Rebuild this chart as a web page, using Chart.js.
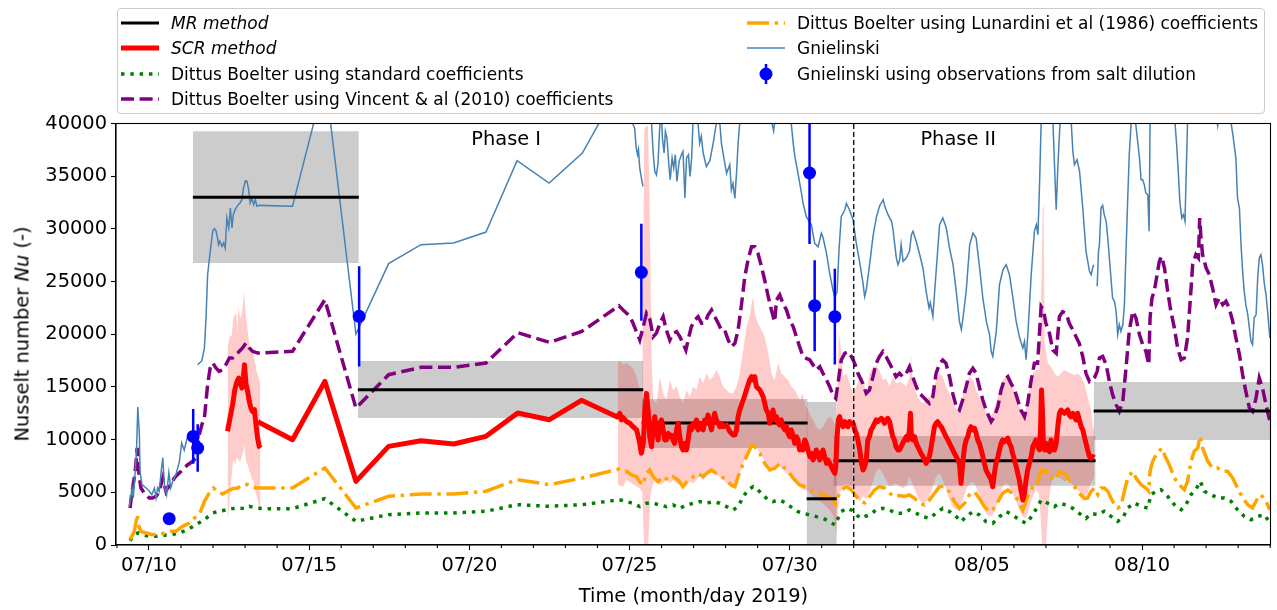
<!DOCTYPE html>
<html><head><meta charset="utf-8">
<script src="https://cdn.jsdelivr.net/npm/chart.js@4/dist/chart.umd.min.js"></script>
<style>
body{margin:0;background:#fff;}
#wrap{position:relative;width:1277px;height:610px;font-family:"DejaVu Sans";color:#000;overflow:hidden;}
#c{position:absolute;left:0;top:0;}
#legend{position:absolute;left:117px;top:8px;width:1148px;height:106px;border:1px solid #cccccc;border-radius:4px;background:rgba(255,255,255,0.8);box-sizing:border-box;}
.item{position:absolute;height:26px;display:flex;align-items:center;font-size:17px;white-space:nowrap;}
.item svg{margin-right:12px;flex:none;}
#ytitle{position:absolute;left:22px;top:334px;font-size:19.4px;white-space:nowrap;transform:translate(-50%,-50%) rotate(-90deg);}
#xtitle{position:absolute;left:693.5px;top:595px;font-size:19.4px;white-space:nowrap;transform:translate(-50%,-50%);}
</style></head>
<body><div id="wrap">
<canvas id="c" width="1277" height="610"></canvas>
<div id="legend">
 <div class="item" style="left:3px;top:0.5px"><svg width="38" height="26"><line x1="0" y1="13" x2="38" y2="13" stroke="#000" stroke-width="3"/></svg><i>MR method</i></div>
 <div class="item" style="left:3px;top:26px"><svg width="38" height="26"><line x1="0" y1="13" x2="38" y2="13" stroke="#ff0000" stroke-width="5"/></svg><i>SCR method</i></div>
 <div class="item" style="left:3px;top:51.5px"><svg width="38" height="26"><line x1="0" y1="13" x2="38" y2="13" stroke="#008000" stroke-width="3.5" stroke-dasharray="3.5 5.8"/></svg>Dittus Boelter using standard coefficients</div>
 <div class="item" style="left:3px;top:77px"><svg width="38" height="26"><line x1="0" y1="13" x2="38" y2="13" stroke="#800080" stroke-width="3.5" stroke-dasharray="13 5.6"/></svg>Dittus Boelter using Vincent &amp; al (2010) coefficients</div>
 <div class="item" style="left:629px;top:0.5px"><svg width="38" height="26"><line x1="0" y1="13" x2="38" y2="13" stroke="#ffa500" stroke-width="3.5" stroke-dasharray="22 5.6 3.5 5.6"/></svg>Dittus Boelter using Lunardini et al (1986) coefficients</div>
 <div class="item" style="left:629px;top:26px"><svg width="38" height="26"><line x1="0" y1="13" x2="38" y2="13" stroke="#4682b4" stroke-width="1.5"/></svg>Gnielinski</div>
 <div class="item" style="left:629px;top:51.5px"><svg width="38" height="26"><line x1="19" y1="3" x2="19" y2="23" stroke="#0000ff" stroke-width="2.5"/><circle cx="19" cy="13" r="6.5" fill="#0000ff"/></svg>Gnielinski using observations from salt dilution</div>
</div>
<div id="ytitle">Nusselt number <i>Nu</i> (-)</div>
<div id="xtitle">Time (month/day 2019)</div>
</div>
<script>
// x values are days since 07/10/2019 00:00
const xTickDays = [0,5,10,15,20,26,31];
const xTickLabels = ['07/10','07/15','07/20','07/25','07/30','08/05','08/10'];
const phaseLabels = ['Phase I','Phase II'];
const phaseDay = [11.15, 25.26];
const phaseValue = 37960;
const phaseBoundaryDay = 22;

// MR method: constant value over period with uncertainty box
const mrStart = [1.37, 6.52, 15.38, 20.53, 21.37, 29.49];
const mrEnd   = [6.55, 15.43, 20.56, 21.47, 29.55, 35.2];
const mrValue = [33000, 14740, 11580, 4390, 8000, 12720];
const mrLow   = [26760, 12050, 9200, 0, 5630, 9960];
const mrHigh  = [39260, 17460, 13850, 13570, 10340, 15470];

// Gnielinski from salt dilution (points with error bars)
const saltDay = [0.63, 1.38, 1.52, 6.56, 15.37, 20.62, 20.78, 21.41];
const saltVal = [2500, 10300, 9200, 21700, 25880, 35300, 22710, 21670];
const saltErr = [300, 2600, 2250, 4750, 4600, 6740, 4320, 4550];

const gnielinski = [[-0.61,3670],[-0.53,5410],[-0.49,4460],[-0.43,6990],[-0.39,8890],[-0.35,13100],[-0.30,10470],[-0.28,6990],[-0.22,5730],[-0.09,5410],[0.01,5100],[0.09,4780],[0.17,5410],[0.22,4460],[0.27,5410],[0.32,5100],[0.37,6680],[0.43,8300],[0.48,5730],[0.55,4780],[0.62,6860],[0.68,5410],[0.74,6040],[0.84,6680],[0.95,7940],[1.02,9680],[1.10,9000],[1.19,10150],[1.30,10300],[1.40,null],
[1.52,17110],[1.65,17490],[1.73,18700],[1.78,21540],[1.83,25650],[1.90,27550],[1.99,29800],[2.04,30020],[2.09,29830],[2.14,29130],[2.17,28500],[2.21,28820],[2.28,28340],[2.33,28660],[2.38,28180],[2.43,31030],[2.49,30080],[2.54,31980],[2.59,30080],[2.63,31350],[2.69,31820],[2.77,32230],[2.84,32450],[2.90,32770],[2.95,33880],[3.01,34570],[3.06,34510],[3.11,33720],[3.16,32450],[3.21,32930],[3.27,32300],[3.32,32770],[3.37,32140],[3.44,32230],[4.48,32140],[5.50,44300],[6.46,20020],[7.48,26700],[8.49,28500],[9.51,28660],[10.52,29700],[11.49,36470],[12.49,34350],[13.53,37200],[14.50,42500],[15.00,41000],
[15.09,40045],[15.16,39570],[15.21,37670],[15.25,37040],[15.28,37520],[15.32,35770],[15.37,34830],[15.42,34040],[15.50,null],[15.62,42000],[15.69,40000],[15.74,37170],[15.79,35430],[15.84,35110],[15.89,36220],[15.95,40000],[15.98,42000],[16.03,38500],[16.08,37200],[16.12,39250],[16.17,38620],[16.22,36410],[16.27,34670],[16.33,36720],[16.38,35770],[16.43,37040],[16.48,34510],[16.55,36410],[16.62,37040],[16.67,37360],[16.73,32930],[16.78,36720],[16.84,37040],[16.89,34980],[16.94,36720],[16.98,40045],[17.05,43000],[17.14,40000],[17.19,38120],[17.24,38800],[17.30,37200],[17.40,35900],[17.51,36500],[17.61,38100],[17.71,40000],[17.76,41500],[17.82,40000],[17.87,38120],[17.92,37200],[18.03,35270],[18.13,36090],[18.18,33690],[18.23,34300],[18.29,32900],[18.34,35270],[18.39,38120],[18.44,40000],[18.80,44000],[19.30,42000],[19.50,39300],[19.60,42000],[20.00,42000],[20.05,40000],[20.11,38120],[20.16,36900],[20.26,35270],[20.37,33370],[20.42,32400],[20.47,31790],[20.52,31160],[20.57,30900],[20.68,30370],[20.78,28630],[20.89,28310],[20.99,29580],[21.04,29200],[21.15,27680],[21.25,25780],[21.35,24200],[21.41,23570],[21.48,24000],[21.54,27990],[21.61,31160],[21.72,31790],[21.77,32420],[21.87,31790],[21.98,30840],[22.08,28630],[22.19,26730],[22.29,24830],[22.34,23570],[22.39,24200],[22.50,26730],[22.60,29260],[22.71,31160],[22.81,32200],[22.92,32770],[22.97,32140],[23.07,31350],[23.18,30720],[23.22,30080],[23.28,28500],[23.33,27240],[23.38,26600],[23.43,27000],[23.48,28500],[23.54,26920],[23.64,27240],[23.74,27870],[23.80,29450],[23.85,29770],[23.95,28820],[24.06,27550],[24.16,26290],[24.26,24070],[24.35,22490],[24.39,23000],[24.47,21700],[24.58,26290],[24.68,30400],[24.78,31030],[24.89,30080],[24.99,28180],[25.10,26600],[25.20,24070],[25.30,21220],[25.36,20440],[25.41,21540],[25.51,24070],[25.62,28500],[25.72,29610],[25.82,29130],[25.93,26290],[26.03,23440],[26.14,21220],[26.24,19960],[26.29,18380],[26.34,17900],[26.45,20280],[26.55,24700],[26.66,26130],[26.76,26600],[26.86,25650],[26.97,23440],[27.07,21220],[27.18,19640],[27.28,18700],[27.33,19330],[27.38,17590],[27.44,20280],[27.54,25650],[27.64,29770],[27.70,30400],[27.75,29450],[27.80,34190],[27.85,40045],[27.95,46000],[28.10,44000],[28.22,40045],[28.29,34190],[28.32,31820],[28.37,35770],[28.44,40045],[28.60,45000],[28.79,40045],[28.84,37360],[28.89,36090],[28.97,36560],[29.05,35460],[29.15,31980],[29.25,27870],[29.36,25970],[29.41,25650],[29.46,26290],[29.49,26600],[29.53,null],
[29.60,24550],[29.64,27870],[29.67,28500],[29.72,31980],[29.77,32230],[29.82,31350],[29.88,30720],[29.93,29130],[29.98,27240],[30.03,25340],[30.08,23440],[30.14,23120],[30.19,22170],[30.24,19960],[30.29,20910],[30.34,20280],[30.40,20900],[30.45,22810],[30.50,27870],[30.55,32610],[30.60,37040],[30.66,40045],[30.72,43000],[30.80,40045],[30.92,36720],[30.97,34670],[31.02,34670],[31.07,34190],[31.12,33400],[31.18,33240],[31.22,29770],[31.25,40045],[31.50,48000],[31.90,46000],[32.03,40045],[32.08,37990],[32.13,35460],[32.18,32610],[32.24,31030],[32.29,31350],[32.34,30720],[32.37,34190],[32.42,40045],[32.80,47000],[33.20,43000],[33.36,39800],[33.50,43000],[33.78,40045],[33.85,38620],[33.93,36720],[33.98,32930],[34.04,31980],[34.09,28500],[34.14,25970],[34.19,24070],[34.24,22810],[34.30,21860],[34.35,20590],[34.40,19330],[34.45,19010],[34.50,21540],[34.56,21860],[34.61,25340],[34.66,27240],[34.71,27550],[34.76,26600],[34.82,24700],[34.87,23760],[34.92,22170],[34.99,19640]];

const dittusVincent = [[-0.59,3510],[-0.53,5100],[-0.46,6360],[-0.41,7620],[-0.37,9210],[-0.34,7620],[-0.30,6360],[-0.25,5410],[-0.15,4940],[0.01,4460],[0.11,4460],[0.22,4620],[0.32,5100],[0.43,6360],[0.53,5100],[0.58,5410],[0.69,5730],[0.79,6360],[0.89,6680],[1.00,6990],[1.10,7310],[1.21,7620],[1.36,7940],[1.47,8260],[1.57,10470],[1.65,11420],[1.73,12050],[1.78,13630],[1.83,15220],[1.91,16800],[1.99,17270],[2.09,16800],[2.19,16480],[2.30,16640],[2.40,17110],[2.51,17750],[2.61,17750],[2.71,18060],[2.82,18380],[2.92,18700],[3.03,19170],[3.13,18700],[3.23,18380],[3.39,18220],[4.48,18380],[5.49,23280],[6.46,13000],[7.48,16160],[8.49,16860],[9.51,16860],[10.52,17270],[11.51,20150],[12.50,19230],[13.51,20260],[14.67,22700],[14.80,22300],[14.91,21990],[15.01,21700],[15.11,21040],[15.22,20200],[15.32,19450],[15.43,20720],[15.53,21990],[15.63,21500],[15.74,19770],[15.84,20100],[15.95,21040],[16.05,21670],[16.15,20400],[16.26,19450],[16.36,20100],[16.47,20250],[16.57,19770],[16.67,19140],[16.76,18500],[16.83,19450],[16.93,20720],[17.04,21350],[17.14,21670],[17.25,21040],[17.35,21040],[17.45,21830],[17.56,22300],[17.66,21670],[17.77,21040],[17.87,20400],[17.97,20400],[18.08,19450],[18.18,18820],[18.29,19140],[18.39,20400],[18.50,22930],[18.60,25470],[18.70,27050],[18.81,28310],[18.91,28310],[19.01,27680],[19.12,26410],[19.22,25150],[19.33,23570],[19.43,22300],[19.53,21190],[19.59,23250],[19.69,23730],[19.79,22930],[19.90,22300],[20.00,21350],[20.11,20720],[20.21,19770],[20.31,18820],[20.42,17870],[20.52,17710],[20.63,17560],[20.73,17080],[20.83,16610],[20.94,16920],[21.04,16290],[21.15,15660],[21.25,15030],[21.35,14240],[21.44,13920],[21.51,15340],[21.61,17560],[21.72,18190],[21.82,18350],[21.93,17870],[22.03,17240],[22.13,16290],[22.28,15340],[22.39,14390],[22.49,14700],[22.60,15970],[22.70,17240],[22.80,17870],[22.91,18350],[23.01,17870],[23.12,17240],[23.22,16610],[23.32,15970],[23.43,16290],[23.53,15970],[23.64,16290],[23.74,16920],[23.84,15970],[23.95,15030],[24.05,14390],[24.16,14080],[24.26,13760],[24.36,13450],[24.47,14080],[24.57,16290],[24.68,17240],[24.78,17560],[24.88,17240],[24.99,15970],[25.09,14390],[25.20,13130],[25.30,12810],[25.40,13760],[25.51,15030],[25.61,16290],[25.72,16770],[25.82,16290],[25.92,15030],[26.03,13760],[26.13,12810],[26.29,11710],[26.39,12180],[26.50,13130],[26.60,14710],[26.70,15660],[26.81,15970],[26.91,15340],[27.02,14710],[27.12,13760],[27.22,12810],[27.33,12180],[27.43,13450],[27.54,15660],[27.64,17240],[27.74,17240],[27.85,22620],[27.92,22300],[28.00,21040],[28.11,20090],[28.21,18510],[28.32,18190],[28.42,21670],[28.52,22140],[28.63,21990],[28.73,21040],[28.84,20400],[28.94,19770],[29.04,19140],[29.15,17870],[29.25,16290],[29.36,15500],[29.46,15660],[29.51,15850],[29.60,16480],[29.67,17750],[29.77,17900],[29.88,17110],[29.98,15530],[30.08,14270],[30.19,13320],[30.29,12690],[30.40,13630],[30.50,16800],[30.60,20280],[30.71,22170],[30.81,21540],[30.92,19960],[31.02,19010],[31.12,18380],[31.21,17110],[31.25,21540],[31.31,23440],[31.38,24070],[31.47,25650],[31.54,26920],[31.61,27390],[31.70,26290],[31.80,24070],[31.90,22170],[32.01,20590],[32.11,18700],[32.22,17590],[32.32,17750],[32.42,19640],[32.51,23440],[32.58,26600],[32.68,27550],[32.76,27240],[32.80,31030],[32.84,29130],[32.89,27550],[33.00,26290],[33.10,25650],[33.20,24390],[33.31,22810],[33.41,23440],[33.52,22810],[33.62,23120],[33.72,22490],[33.83,21220],[33.93,19640],[34.04,18060],[34.14,16160],[34.24,14580],[34.35,13000],[34.45,12690],[34.56,13950],[34.66,15850],[34.76,14900],[34.87,13320],[34.99,11740]];

const dittusLunardini = [[-0.59,510],[-0.51,980],[-0.46,1300],[-0.41,2090],[-0.37,2880],[-0.34,1930],[-0.25,1300],[-0.09,1140],[0.11,980],[0.32,1040],[0.53,1140],[0.69,1300],[0.84,1300],[1.05,1770],[1.26,2090],[1.47,2720],[1.59,3040],[1.73,4150],[1.88,4940],[2.01,5410],[2.14,5100],[2.30,4840],[2.45,5100],[2.61,5350],[2.77,5410],[2.92,5730],[3.08,5730],[3.18,5570],[3.34,5410],[4.48,5410],[5.49,7310],[6.46,3510],[7.48,4620],[8.49,4840],[9.51,4840],[10.52,5100],[11.49,6200],[12.49,5730],[13.53,6360],[14.67,7200],[14.80,6960],[14.91,7000],[15.06,6650],[15.22,6490],[15.32,6010],[15.41,5700],[15.53,6800],[15.63,7120],[15.74,6490],[15.89,6010],[16.05,6490],[16.21,6170],[16.36,6490],[16.52,6170],[16.67,5540],[16.83,6170],[16.99,6490],[17.14,6800],[17.30,6490],[17.40,6800],[17.56,7120],[17.71,6800],[17.87,6490],[18.03,6170],[18.18,5700],[18.29,5540],[18.39,6490],[18.55,7750],[18.70,8700],[18.81,9490],[18.91,9330],[19.07,8700],[19.22,7750],[19.38,7120],[19.53,7280],[19.69,7750],[19.85,7280],[20.00,6800],[20.16,6170],[20.31,5700],[20.47,5540],[20.57,5380],[20.73,5070],[20.89,4910],[21.04,4750],[21.20,4590],[21.35,4270],[21.44,3900],[21.51,4590],[21.61,5220],[21.77,5540],[21.93,5220],[22.08,4590],[22.24,4120],[22.34,4000],[22.49,4590],[22.65,5220],[22.80,5540],[22.96,5400],[23.12,4910],[23.27,4590],[23.43,4700],[23.58,4600],[23.74,4750],[23.90,4430],[24.05,3960],[24.21,3800],[24.36,4270],[24.52,4910],[24.68,5540],[24.83,5540],[24.99,5060],[25.14,4120],[25.30,3480],[25.46,3960],[25.61,4750],[25.77,5060],[25.92,4430],[26.08,3640],[26.24,3170],[26.34,3320],[26.50,4120],[26.65,4910],[26.81,5220],[26.96,4910],[27.12,4270],[27.28,3320],[27.43,4590],[27.59,5540],[27.74,5860],[27.85,7120],[27.95,6960],[28.11,6960],[28.21,6170],[28.32,6300],[28.42,6960],[28.58,6800],[28.73,6170],[28.89,5540],[29.04,4910],[29.20,4430],[29.30,4460],[29.41,5100],[29.51,5410],[29.62,4780],[29.72,5410],[29.82,5410],[29.93,5100],[30.03,4460],[30.14,3830],[30.24,3510],[30.34,3700],[30.45,5100],[30.55,6360],[30.71,6990],[30.81,6360],[30.97,5730],[31.12,5410],[31.21,5100],[31.25,6990],[31.33,7940],[31.44,8570],[31.54,8890],[31.61,9210],[31.70,8570],[31.85,7620],[32.01,6360],[32.16,5730],[32.32,5250],[32.42,6040],[32.53,7940],[32.63,8890],[32.74,9210],[32.81,10310],[32.89,9210],[33.05,7940],[33.20,7310],[33.36,7310],[33.52,6990],[33.67,6990],[33.83,6360],[33.98,5410],[34.14,4460],[34.30,3830],[34.45,3510],[34.61,4460],[34.71,4780],[34.87,4150],[34.99,3350]];

const dittusStandard = [[-0.59,410],[-0.46,980],[-0.35,1140],[-0.20,980],[0.01,820],[0.22,820],[0.48,920],[0.69,980],[0.95,1140],[1.21,1460],[1.47,1930],[1.73,2410],[1.99,3040],[2.19,3200],[2.45,3360],[2.71,3510],[2.97,3450],[3.13,3670],[3.34,3510],[3.55,3450],[4.48,3450],[5.49,4400],[6.46,2250],[7.48,2880],[8.49,3040],[9.51,3040],[10.52,3200],[11.49,3830],[12.49,3670],[13.53,3830],[14.67,4300],[14.91,4120],[15.11,3960],[15.32,3640],[15.53,3960],[15.74,3960],[15.95,3800],[16.15,3640],[16.36,3800],[16.57,3480],[16.78,3800],[16.99,3960],[17.19,4120],[17.40,3960],[17.61,4120],[17.82,3960],[18.03,3640],[18.23,3320],[18.39,3640],[18.55,4590],[18.70,5220],[18.86,5540],[19.01,5220],[19.17,4750],[19.33,4270],[19.48,4120],[19.64,4270],[19.79,4120],[19.95,3800],[20.11,3480],[20.26,3170],[20.42,3010],[20.63,2850],[20.83,2690],[21.04,2530],[21.25,2220],[21.41,1900],[21.51,2530],[21.61,3170],[21.77,3480],[21.93,3320],[22.08,2850],[22.24,2530],[22.34,2690],[22.49,2850],[22.70,3320],[22.91,3480],[23.12,3320],[23.32,3010],[23.53,3010],[23.74,3320],[23.95,3010],[24.16,2690],[24.36,2530],[24.57,3010],[24.78,3480],[24.99,3170],[25.20,2690],[25.35,2220],[25.51,2690],[25.72,3170],[25.92,2850],[26.13,2220],[26.34,2060],[26.55,2690],[26.76,3170],[26.96,2850],[27.17,2380],[27.38,2060],[27.59,2850],[27.85,4270],[28.06,3960],[28.26,3640],[28.42,3960],[28.63,3800],[28.84,3480],[29.04,3010],[29.25,2530],[29.41,3000],[29.62,2880],[29.82,3200],[30.03,2720],[30.24,2250],[30.40,2560],[30.55,3510],[30.76,3990],[30.97,3670],[31.18,3510],[31.28,4780],[31.44,5100],[31.59,5250],[31.80,4620],[32.01,3830],[32.22,3350],[32.37,3830],[32.53,4780],[32.68,5250],[32.82,6040],[32.94,5100],[33.15,4780],[33.36,4460],[33.57,4460],[33.78,4150],[33.98,3350],[34.19,2720],[34.40,2400],[34.61,2720],[34.82,2880],[34.99,2090]];

// SCR method: first short high-resolution segment, then the main series
const scrFirst = [[2.45,10790],[2.53,12050],[2.61,13320],[2.68,14740],[2.73,15370],[2.80,15850],[2.84,15500],[2.90,14900],[2.95,16010],[2.98,17110],[3.03,15220],[3.08,14580],[3.13,13630],[3.18,13000],[3.23,12690],[3.29,12840],[3.34,11420],[3.39,10150],[3.44,9360],[3.48,9200]];
const scrMain = [[3.40,11700],[4.48,9990],[5.49,15530],[6.46,6040],[7.48,9360],[8.49,9900],[9.51,9590],[10.52,10310],[11.51,12520],[12.50,11890],[13.50,13730],[14.62,12150],[14.70,12500],[14.75,11870],[14.80,12100],[14.91,11710],[15.01,11550],[15.11,11230],[15.22,10920],[15.30,9970],[15.37,8700],[15.43,9650],[15.48,12810],[15.53,14390],[15.58,12810],[15.63,10280],[15.69,9330],[15.74,11230],[15.79,12180],[15.84,10920],[15.89,9970],[15.95,11550],[16.00,11870],[16.05,10920],[16.10,9970],[16.15,9970],[16.21,10600],[16.26,10280],[16.31,10400],[16.36,9970],[16.41,9650],[16.47,10920],[16.52,11550],[16.57,10280],[16.62,9330],[16.67,9020],[16.73,9650],[16.78,9020],[16.83,9970],[16.88,11230],[16.93,10920],[16.99,11550],[17.04,11230],[17.09,11870],[17.14,10920],[17.19,11550],[17.25,11400],[17.30,10920],[17.35,11870],[17.40,11550],[17.45,12340],[17.51,11550],[17.56,10920],[17.61,11870],[17.66,12500],[17.71,11870],[17.77,11550],[17.82,11230],[17.87,11550],[17.92,11230],[18.03,11390],[18.13,10760],[18.23,10440],[18.29,10440],[18.34,10920],[18.39,12180],[18.44,12810],[18.55,13760],[18.65,14710],[18.75,15660],[18.81,15970],[18.86,15660],[18.91,15970],[18.96,15030],[19.07,14710],[19.17,14080],[19.22,13450],[19.27,12810],[19.33,12500],[19.38,11550],[19.43,12180],[19.48,12810],[19.53,11870],[19.59,12180],[19.64,11550],[19.69,11400],[19.74,11870],[19.79,11230],[19.85,10920],[19.90,11230],[19.95,10600],[20.00,10280],[20.05,10920],[20.11,10280],[20.16,9650],[20.21,10280],[20.26,9970],[20.31,9020],[20.37,9330],[20.42,9020],[20.47,9970],[20.52,9650],[20.57,9020],[20.63,8390],[20.68,8700],[20.73,8070],[20.78,8390],[20.83,9020],[20.89,8700],[20.94,8070],[20.99,8390],[21.04,9020],[21.09,8390],[21.15,7750],[21.20,8070],[21.25,7750],[21.30,7440],[21.35,7120],[21.41,6800],[21.44,7440],[21.48,10280],[21.52,11870],[21.56,12180],[21.61,11550],[21.67,11230],[21.72,11710],[21.77,11550],[21.82,11230],[21.87,11710],[21.93,11550],[21.98,11550],[22.03,10920],[22.08,10600],[22.13,9970],[22.19,9020],[22.24,7750],[22.29,7120],[22.34,7400],[22.39,8070],[22.44,9970],[22.49,10280],[22.54,10920],[22.60,11230],[22.65,11550],[22.70,11870],[22.75,11700],[22.80,11870],[22.86,12020],[22.91,11870],[22.96,11550],[23.01,11870],[23.06,12020],[23.12,11700],[23.17,10920],[23.22,10280],[23.27,9970],[23.32,9330],[23.38,9020],[23.43,9020],[23.48,9330],[23.53,9650],[23.58,9970],[23.64,10280],[23.69,9970],[23.74,10920],[23.77,12500],[23.80,10280],[23.84,9970],[23.90,10280],[23.95,9650],[24.00,9330],[24.05,9020],[24.10,8700],[24.16,8390],[24.21,8070],[24.26,7750],[24.31,8070],[24.36,8390],[24.42,9330],[24.47,10280],[24.52,11230],[24.57,11550],[24.62,11700],[24.68,11390],[24.73,11230],[24.78,10920],[24.83,10600],[24.88,10280],[24.94,9970],[24.99,9650],[25.04,9330],[25.09,9020],[25.14,8700],[25.20,8390],[25.25,8070],[25.30,7750],[25.35,5860],[25.40,7750],[25.46,9330],[25.51,9970],[25.56,10280],[25.61,10920],[25.66,11230],[25.72,10920],[25.77,11070],[25.82,10600],[25.87,9970],[25.92,9650],[25.98,9020],[26.03,8390],[26.08,7750],[26.13,7120],[26.18,6800],[26.24,6490],[26.29,6170],[26.34,5540],[26.39,6800],[26.44,7750],[26.50,8390],[26.55,9020],[26.60,9650],[26.65,9970],[26.70,9800],[26.76,9970],[26.81,10130],[26.86,9650],[26.91,9330],[26.96,8700],[27.02,8070],[27.07,7440],[27.12,6800],[27.17,6170],[27.22,5220],[27.28,4270],[27.33,4910],[27.38,6170],[27.43,7120],[27.48,7750],[27.54,8390],[27.59,9330],[27.64,9650],[27.69,9970],[27.74,9330],[27.80,9020],[27.83,10920],[27.86,14710],[27.89,12810],[27.92,9330],[27.96,9020],[28.00,9650],[28.06,9020],[28.11,8860],[28.16,9970],[28.19,9020],[28.23,9330],[28.27,9020],[28.32,9650],[28.37,11230],[28.42,12500],[28.47,12810],[28.52,12650],[28.58,12500],[28.63,12650],[28.68,12810],[28.73,12340],[28.78,12180],[28.84,12500],[28.89,12180],[28.94,11870],[28.99,12500],[29.04,11870],[29.10,11230],[29.15,10920],[29.20,10280],[29.25,9650],[29.30,9020],[29.36,8390],[29.41,8230],[29.46,8400],[29.51,8300]];

// SCR uncertainty band
const scrHigh = [[2.45,19000],[2.48,19170],[2.53,19900],[2.58,19800],[2.63,21500],[2.68,21860],[2.73,21980],[2.76,20280],[2.79,22600],[2.85,21500],[2.89,21830],[2.93,22810],[2.97,24030],[3.01,22170],[3.06,20900],[3.10,19800],[3.15,18500],[3.20,18540],[3.25,18380],[3.31,17270],[3.36,16480],[3.41,16000],[3.46,15500],[3.48,15220],[3.60,null],
[14.64,17240],[14.70,17500],[14.80,17080],[14.91,17300],[15.01,17000],[15.11,16770],[15.22,15970],[15.30,15030],[15.40,14700],[15.46,39380],[15.52,39800],[15.58,39700],[15.63,31790],[15.69,17560],[15.74,13760],[15.84,13450],[15.95,15970],[16.05,14390],[16.15,13760],[16.26,15660],[16.36,14710],[16.47,15030],[16.57,14080],[16.67,13450],[16.78,14710],[16.88,14080],[16.99,15030],[17.09,14710],[17.19,15970],[17.30,15340],[17.40,16290],[17.51,15660],[17.61,15970],[17.71,16610],[17.82,15970],[17.92,15030],[18.03,14710],[18.13,14390],[18.23,14390],[18.34,15030],[18.44,16290],[18.55,18510],[18.65,20720],[18.75,21670],[18.81,22930],[18.86,23570],[18.91,21990],[19.01,21040],[19.12,20400],[19.22,19770],[19.33,18190],[19.43,16290],[19.53,15660],[19.64,17240],[19.74,16290],[19.85,15970],[19.95,15660],[20.05,15030],[20.16,14710],[20.26,14080],[20.33,13760],[20.40,14390],[20.47,13450],[20.57,12810],[20.73,11870],[20.83,11230],[20.94,10920],[21.04,11230],[21.15,11870],[21.25,12180],[21.35,11870],[21.44,11230],[21.48,13450],[21.53,20280],[21.58,19140],[21.67,15970],[21.77,16290],[21.87,15340],[21.98,14390],[22.08,15030],[22.19,15970],[22.29,15970],[22.39,14080],[22.49,16290],[22.60,16920],[22.70,17000],[22.80,16610],[22.91,15660],[23.01,15800],[23.12,15030],[23.22,15970],[23.32,15340],[23.43,15500],[23.53,15340],[23.64,15030],[23.74,15970],[23.79,18030],[23.84,15500],[23.95,14390],[24.05,13760],[24.16,13450],[24.26,13760],[24.36,14080],[24.47,14390],[24.57,15660],[24.68,16290],[24.78,16000],[24.88,15030],[24.99,14390],[25.09,13450],[25.20,12810],[25.30,13130],[25.40,14080],[25.51,15340],[25.61,15970],[25.72,15660],[25.82,14710],[25.92,14080],[26.03,13450],[26.13,12660],[26.24,12180],[26.34,12500],[26.44,13450],[26.55,14710],[26.65,15660],[26.76,15970],[26.86,15660],[26.96,15030],[27.07,14080],[27.17,13130],[27.28,12500],[27.38,12800],[27.48,14710],[27.59,16290],[27.69,16610],[27.80,16610],[27.86,25000],[27.90,32110],[27.93,32110],[27.96,19140],[28.06,17240],[28.16,16920],[28.26,16290],[28.37,15970],[28.47,16290],[28.58,16610],[28.68,16450],[28.78,16290],[28.89,16100],[28.99,16290],[29.10,15970],[29.20,15340],[29.30,14080],[29.41,12810],[29.46,11230],[29.51,11000]];
const scrLow = [[2.45,2880],[2.48,2690],[2.53,4880],[2.58,6500],[2.63,8150],[2.69,7620],[2.73,8200],[2.77,8260],[2.84,7830],[2.90,8500],[2.94,8780],[2.97,9520],[3.03,7940],[3.08,7620],[3.13,6990],[3.15,6880],[3.23,6040],[3.25,6250],[3.32,5100],[3.36,4680],[3.40,4150],[3.44,3280],[3.48,3100],[3.60,null],
[14.64,5700],[14.80,5540],[14.91,6170],[15.06,5860],[15.22,5540],[15.32,5380],[15.40,5000],[15.45,0],[15.58,0],[15.66,4910],[15.74,5860],[15.84,6170],[15.95,5700],[16.05,5860],[16.15,6170],[16.26,5860],[16.36,6170],[16.47,5860],[16.57,5700],[16.67,5540],[16.78,5700],[16.88,6010],[16.99,5860],[17.09,6170],[17.19,6490],[17.30,6170],[17.40,6490],[17.51,6800],[17.61,6960],[17.71,6650],[17.82,6490],[17.92,6170],[18.03,5860],[18.13,5540],[18.23,5380],[18.34,5860],[18.44,6800],[18.55,7750],[18.65,8700],[18.75,9330],[18.86,9490],[18.96,9330],[19.07,8700],[19.17,8230],[19.27,7590],[19.38,7120],[19.48,7280],[19.59,7750],[19.69,7440],[19.79,7120],[19.90,6800],[20.00,6490],[20.11,6170],[20.21,5860],[20.31,5540],[20.42,5220],[20.52,5220],[20.63,4910],[20.73,4590],[20.83,4270],[20.94,4120],[21.04,3960],[21.15,3640],[21.25,3320],[21.35,2850],[21.42,2060],[21.46,900],[21.51,3320],[21.56,4910],[21.67,5540],[21.77,5860],[21.87,5540],[21.98,4910],[22.08,4430],[22.19,4120],[22.29,4600],[22.39,4400],[22.49,5000],[22.60,6000],[22.70,7000],[22.80,7280],[22.91,6800],[23.01,6170],[23.12,5540],[23.22,5700],[23.32,5860],[23.43,5600],[23.53,5380],[23.64,5600],[23.74,6490],[23.84,5800],[23.95,4910],[24.05,4270],[24.16,3960],[24.26,4100],[24.36,4590],[24.47,5540],[24.57,6490],[24.68,6800],[24.78,6170],[24.88,5220],[24.99,4270],[25.09,3640],[25.20,3320],[25.30,3500],[25.40,4270],[25.51,5220],[25.61,5860],[25.72,6010],[25.82,5540],[25.92,4590],[26.03,3640],[26.13,3010],[26.24,2690],[26.34,2850],[26.44,3640],[26.55,4590],[26.65,5540],[26.76,5860],[26.86,5540],[26.96,4910],[27.07,4120],[27.17,3320],[27.28,2690],[27.38,2530],[27.48,3640],[27.59,4590],[27.69,5220],[27.78,4900],[27.85,2060],[27.88,0],[28.00,0],[28.07,3320],[28.16,5860],[28.26,6490],[28.37,6490],[28.47,6300],[28.58,6010],[28.68,6170],[28.78,5860],[28.89,5540],[28.99,5220],[29.10,4910],[29.20,4590],[29.30,4900],[29.41,5860],[29.46,6170],[29.51,6500]];

const pts = arr => arr.map(p => ({x: p[0], y: p[1]}));
const datasets = [];
mrStart.forEach((s, i) => {
  datasets.push({data: [{x: s, y: mrHigh[i]}, {x: mrEnd[i], y: mrHigh[i]}], fill: {value: mrLow[i]},
    backgroundColor: 'rgba(0,0,0,0.2)', borderColor: 'rgba(0,0,0,0)', borderWidth: 0, order: 30});
});
datasets.push({data: pts(scrHigh), fill: '+1', backgroundColor: 'rgba(255,0,0,0.2)', borderColor: 'rgba(0,0,0,0)', borderWidth: 0, order: 25});
datasets.push({data: pts(scrLow), fill: false, borderColor: 'rgba(0,0,0,0)', borderWidth: 0, order: 25});
datasets.push({label: 'Dittus Boelter using standard coefficients', data: pts(dittusStandard), borderColor: '#008000', borderWidth: 3.5, borderDash: [3.5, 5.8], fill: false, order: 9});
datasets.push({label: 'Dittus Boelter using Lunardini et al (1986) coefficients', data: pts(dittusLunardini), borderColor: '#ffa500', borderWidth: 3.5, borderDash: [22, 5.6, 3.5, 5.6], fill: false, order: 8});
datasets.push({label: 'Dittus Boelter using Vincent & al (2010) coefficients', data: pts(dittusVincent), borderColor: '#800080', borderWidth: 3.5, borderDash: [13, 5.6], fill: false, order: 7});
datasets.push({label: 'Gnielinski', data: pts(gnielinski), borderColor: '#4682b4', borderWidth: 1.5, fill: false, order: 6});
mrStart.forEach((s, i) => {
  datasets.push({data: [{x: s, y: mrValue[i]}, {x: mrEnd[i], y: mrValue[i]}], borderColor: '#000', borderWidth: 3, fill: false, order: 5});
});
datasets.push({label: 'SCR method', data: pts(scrFirst), borderColor: '#ff0000', borderWidth: 5, borderJoinStyle: 'round', fill: false, order: 4});
datasets.push({data: pts(scrMain), borderColor: '#ff0000', borderWidth: 5, borderJoinStyle: 'round', fill: false, order: 4});
datasets.push({data: [{x: phaseBoundaryDay, y: 0}, {x: phaseBoundaryDay, y: 40000}], borderColor: '#000', borderWidth: 1.3, borderDash: [5, 3], fill: false, order: 3});
const errData = [];
saltDay.forEach((d, i) => { errData.push({x: d, y: saltVal[i] - saltErr[i]}, {x: d, y: saltVal[i] + saltErr[i]}, {x: d, y: null}); });
datasets.push({data: errData, borderColor: '#0000ff', borderWidth: 2.5, fill: false, order: 2});
datasets.push({label: 'Gnielinski using observations from salt dilution', data: saltDay.map((d, i) => ({x: d, y: saltVal[i]})), showLine: false,
  pointRadius: 6.5, pointBackgroundColor: '#0000ff', pointBorderWidth: 0, borderColor: '#0000ff', order: 1});

const extras = {
  id: 'extras',
  afterDraw(chart) {
    const {ctx, chartArea: a, scales: {x, y}} = chart;
    ctx.save();
    ctx.strokeStyle = '#000'; ctx.lineWidth = 1.1; ctx.setLineDash([]);
    ctx.strokeRect(a.left, a.top, a.right - a.left, a.bottom - a.top);
    for (let d = Math.ceil(x.min); d <= x.max; d++) {
      if (xTickDays.includes(d)) continue;
      const px = x.getPixelForValue(d);
      ctx.beginPath(); ctx.moveTo(px, a.bottom); ctx.lineTo(px, a.bottom + 3); ctx.stroke();
    }
    ctx.fillStyle = '#000'; ctx.font = '19.4px "DejaVu Sans"'; ctx.textAlign = 'center'; ctx.textBaseline = 'alphabetic';
    phaseLabels.forEach((t, i) => ctx.fillText(t, x.getPixelForValue(phaseDay[i]), y.getPixelForValue(phaseValue)));
    ctx.restore();
  }
};

const tickFont = {family: 'DejaVu Sans', size: 19.4};
new Chart(document.getElementById('c'), {
  type: 'line',
  data: {datasets},
  plugins: [extras],
  options: {
    responsive: false, animation: false, devicePixelRatio: 1,
    layout: {padding: {left: 0, right: 6, top: 123.5, bottom: 0}},
    plugins: {legend: {display: false}, tooltip: {enabled: false}},
    elements: {point: {radius: 0}, line: {tension: 0}},
    scales: {
      x: {type: 'linear', min: -1.03, max: 35.01,
        afterFit(s) { s.height = 65; },
        afterBuildTicks(s) { s.ticks = xTickDays.map(v => ({value: v})); },
        ticks: {autoSkip: false, maxRotation: 0, minRotation: 0, padding: 4, color: '#000', font: tickFont,
          callback: v => xTickLabels[xTickDays.indexOf(v)]},
        grid: {drawOnChartArea: false, drawTicks: true, tickLength: 5, tickWidth: 1.1, tickColor: '#000'},
        border: {display: true, color: '#000', width: 1.1}},
      y: {type: 'linear', min: 0, max: 40000,
        afterFit(s) { s.width = 116; },
        ticks: {stepSize: 5000, padding: 4, color: '#000', font: tickFont, callback: v => String(v)},
        grid: {drawOnChartArea: false, drawTicks: true, tickLength: 5, tickWidth: 1.1, tickColor: '#000'},
        border: {display: true, color: '#000', width: 1.1}}
    }
  }
});
</script>
</body></html>
